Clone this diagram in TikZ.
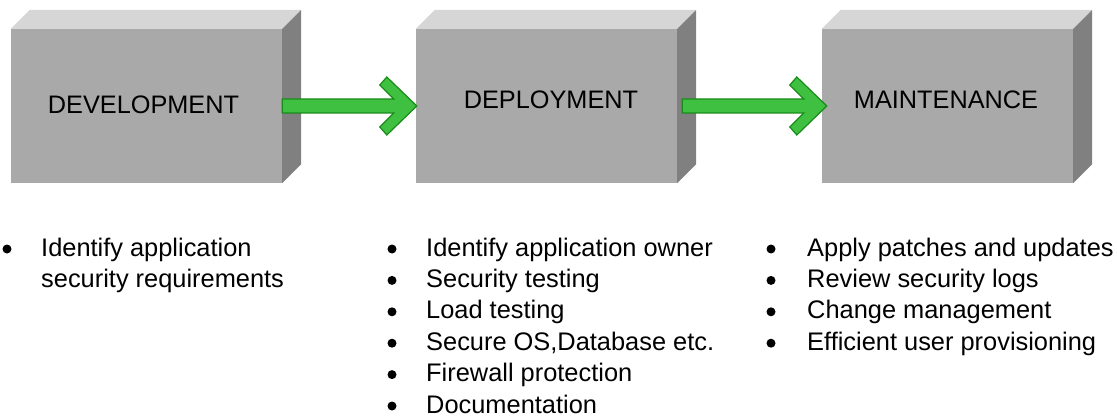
\documentclass[tikz,border=0pt]{standalone}
\usepackage{fontspec}
\setmainfont{Liberation Sans}
\usetikzlibrary{calc}

\definecolor{boxfront}{RGB}{169,169,169}
\definecolor{boxtop}{RGB}{214,214,214}
\definecolor{boxside}{RGB}{128,128,128}
\definecolor{arrowfill}{RGB}{64,192,64}
\definecolor{arrowline}{RGB}{24,140,24}

\tikzset{
  front/.style={fill=boxfront, draw=none, inner sep=0pt, minimum height=154pt},
  topface/.style={fill=boxtop, draw=none},
  sideface/.style={fill=boxside, draw=none},
  title/.style={font=\fontsize{25.3}{30}\selectfont, inner sep=0pt, anchor=base},
  item/.style={font=\fontsize{25.4}{30}\selectfont, inner sep=0pt, anchor=base west},
  bullet/.style={circle, fill=black, inner sep=0pt, minimum size=9pt},
  flow/.style={fill=arrowfill, draw=arrowline, line width=1.2pt, line join=miter},
}

% 3-D block: front face node #1 plus top and right faces
\newcommand{\block}[1]{%
  \fill[topface] (#1.north west) -- ++(19,-19) -- ($(#1.north east)+(19,-19)$) -- (#1.north east) -- cycle;
  \fill[sideface] (#1.north east) -- ++(19,-19) -- ($(#1.south east)+(19,-19)$) -- (#1.south east) -- cycle;
}

% block arrow from coordinate #1 (shaft start) to #2 (tip)
\newcommand{\flowarrow}[2]{%
  \draw[flow] ($(#1)+(0,-7)$) -- ($(#2)+(-23,-7)$) -- ($(#2)+(-37,-21)$) -- ($(#2)+(-30,-29)$)
    -- (#2) -- ($(#2)+(-30,29)$) -- ($(#2)+(-37,21)$) -- ($(#2)+(-23,7)$) -- ($(#1)+(0,7)$) -- cycle;
}

\begin{document}
\begin{tikzpicture}[x=1pt, y=-1pt]
\useasboundingbox (0,0) rectangle (1117,417);

% stages
\node[front, minimum width=271pt] (dev) at (146.5,106) {};
\node[front, minimum width=261pt] (dep) at (546.5,106) {};
\node[front, minimum width=251pt] (mnt) at (947.5,106) {};
\block{dev}
\block{dep}
\block{mnt}

\node[title] (devlabel) at (143.5,114) {DEVELOPMENT};
\node[title] (deplabel) at (551,109) {DEPLOYMENT};
\node[title] (mntlabel) at (946,109) {MAINTENANCE};

% connectors between stages
\coordinate (a1s) at (dev.east);
\coordinate (a1t) at ($(dep.west)+(1,0)$);
\coordinate (a2s) at ($(dep.east)+(5,0)$);
\coordinate (a2t) at ($(mnt.west)+(5,0)$);
\flowarrow{a1s}{a1t}
\flowarrow{a2s}{a2t}

% development tasks
\node[bullet] (b11) at (7,249) {};
\node[item] (t11) at (41,256) {Identify application};
\node[item] (t12) at (41,287.4) {security requirements};

% deployment tasks
\foreach \txt [count=\i from 0] in {Identify application owner, Security testing, Load testing,
    {Secure OS,Database etc.}, Firewall protection, Documentation} {
  \node[bullet] (b2\i) at (392,249+31.4*\i) {};
  \node[item] (t2\i) at (426,256+31.4*\i) {\txt};
}

% maintenance tasks
\foreach \txt [count=\i from 0] in {Apply patches and updates, Review security logs,
    Change management, Efficient user provisioning} {
  \node[bullet] (b3\i) at (771,249+31.4*\i) {};
  \node[item] (t3\i) at (807,256+31.4*\i) {\txt};
}
\end{tikzpicture}
\end{document}
